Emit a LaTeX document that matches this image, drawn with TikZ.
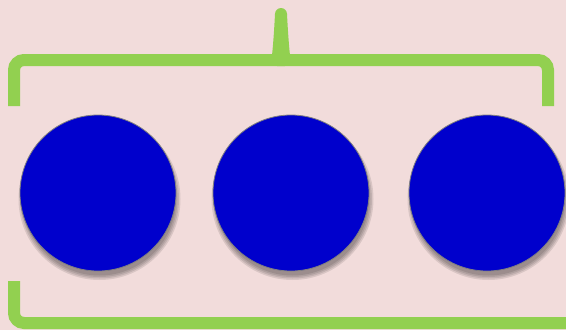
\documentclass[tikz,border=0pt]{standalone}
\usepackage{tikz}
\usetikzlibrary{positioning,calc}
\definecolor{bgpink}{HTML}{F2DCDB}
\definecolor{ballblue}{HTML}{0000CC}
\definecolor{bracegreen}{HTML}{92D050}

\begin{document}
\begin{tikzpicture}[x=1pt, y=-1pt,
  ball/.style={circle, minimum size=156pt, inner sep=0pt, fill=ballblue, draw=gray, line width=0.8pt},
  bracket/.style={draw=bracegreen, line width=12pt, rounded corners=10pt, line cap=butt}]
  \fill[bgpink] (0,0) rectangle (566,330);
  \useasboundingbox (0,0) rectangle (566,330);
  % soft shadows, then the three balls
  \foreach \i/\x in {1/98,2/291,3/487} {
    \foreach \r in {76.5,78,79.5,81}
      \fill[black, opacity=0.1] (\x+1.5,199) circle (\r pt);
    \node[ball] (c\i) at (\x,193) {};
  }
  % brace over the balls
  \coordinate (tip) at (281,14);
  \draw[bracket] (14,106) -- (14,60) -- (268,60)
    .. controls (277,60) and (279,54) .. (tip);
  \draw[bracket] (548,106) -- (548,60) -- (294,60)
    .. controls (285,60) and (283,54) .. (tip);
  \fill[bracegreen] (tip) circle (6pt);
  % bracket below
  \draw[bracket] (14,281) -- (14,323) -- (570,323);
\end{tikzpicture}
\end{document}
